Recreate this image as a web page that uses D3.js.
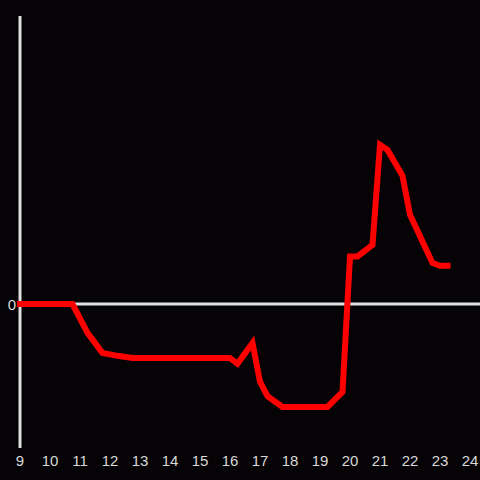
<!DOCTYPE html>
<html>
<head>
<meta charset="utf-8">
<script src="https://cdn.jsdelivr.net/npm/d3@7"></script>
<style>
  html, body { margin: 0; padding: 0; background: #050306; }
  svg { display: block; }
</style>
</head>
<body>
<div id="chart"></div>
<script>
// hours of the day and the series value at each one
const hours = [9, 10.75, 11.25, 11.75, 12, 12.25, 12.75, 16, 16.25, 16.75, 17, 17.25, 17.75,
  19.25, 19.75, 20, 20.25, 20.75, 21, 21.25, 21.75, 22, 22.75, 23, 23.25];
const values = [0, 0, -0.2, -0.34, -0.35, -0.36, -0.375, -0.375, -0.415, -0.27, -0.54, -0.64, -0.715,
  -0.715, -0.61, 0.33, 0.33, 0.41, 1.105, 1.07, 0.89, 0.62, 0.285, 0.265, 0.265];
const xTicks = [9, 10, 11, 12, 13, 14, 15, 16, 17, 18, 19, 20, 21, 22, 23, 24];
const yTicks = [0];

const data = hours.map((h, i) => ({ h: h, v: values[i] }));

const width = 480, height = 480;
const svg = d3.select('#chart')
  .append('svg')
  .attr('width', width)
  .attr('height', height);

svg.append('rect')
  .attr('width', width)
  .attr('height', height)
  .attr('fill', '#050306');

const x = d3.scaleLinear().domain([9, 24]).range([20, 470]);
const y = d3.scaleLinear().domain([-1, 2]).range([448, 16]);

// vertical axis
svg.append('line')
  .attr('x1', x(9)).attr('x2', x(9))
  .attr('y1', y(2)).attr('y2', y(-1))
  .attr('stroke', '#e0e0e0')
  .attr('stroke-width', 3);

// zero line
svg.append('line')
  .attr('x1', x(9)).attr('x2', width)
  .attr('y1', y(0)).attr('y2', y(0))
  .attr('stroke', '#e0e0e0')
  .attr('stroke-width', 3);

// x tick labels
svg.selectAll('.xlab')
  .data(xTicks)
  .enter().append('text')
  .attr('class', 'xlab')
  .attr('x', d => x(d))
  .attr('y', 466)
  .attr('text-anchor', 'middle')
  .attr('fill', '#d8d8d8')
  .style('font-family', 'Liberation Sans, Arial, sans-serif')
  .style('font-size', '15px')
  .text(d => d);

// y tick labels
svg.selectAll('.ylab')
  .data(yTicks)
  .enter().append('text')
  .attr('class', 'ylab')
  .attr('x', 16)
  .attr('y', d => y(d) + 5.5)
  .attr('text-anchor', 'end')
  .attr('fill', '#d8d8d8')
  .style('font-family', 'Liberation Sans, Arial, sans-serif')
  .style('font-size', '15px')
  .text(d => d);

// the series line
const line = d3.line()
  .x(d => x(d.h))
  .y(d => y(d.v));

svg.append('path')
  .datum(data)
  .attr('d', line)
  .attr('fill', 'none')
  .attr('stroke', '#ff0000')
  .attr('stroke-width', 6)
  .attr('stroke-linecap', 'square');
</script>
</body>
</html>
